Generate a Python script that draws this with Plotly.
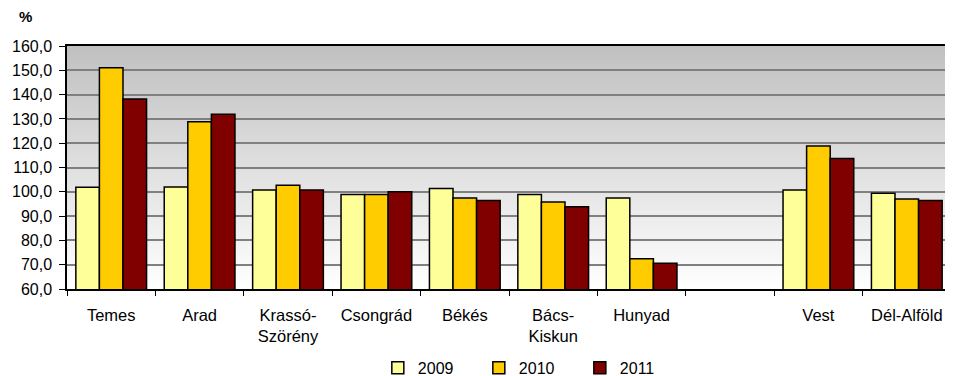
import base64
import plotly.graph_objects as go

# === Data ===
categories = ["Temes", "Arad", "Krassó-<br>Szörény", "Csongrád", "Békés",
              "Bács-<br>Kiskun", "Hunyad", " ", "Vest", "Dél-Alföld"]
years = ["2009", "2010", "2011"]
v2009 = [101.9, 102.0, 100.7, 98.9, 101.4, 98.9, 97.5, None, 100.7, 99.4]
v2010 = [151.1, 128.8, 102.7, 98.9, 97.5, 95.8, 72.5, None, 118.8, 97.0]
v2011 = [138.2, 131.9, 100.7, 100.0, 96.4, 93.8, 70.6, None, 113.7, 96.4]
colors = ["#FFFF99", "#FFCC00", "#800000"]

fig = go.Figure()
for name, vals, col in zip(years, [v2009, v2010, v2011], colors):
    fig.add_trace(go.Bar(
        x=categories, y=vals, name=name,
        marker=dict(color=col, line=dict(color="black", width=1.5)),
    ))

# gray-to-white gradient behind the plot area
svg = ('<svg xmlns="http://www.w3.org/2000/svg" width="100" height="100" preserveAspectRatio="none">'
       '<defs><linearGradient id="g" x1="0" y1="0" x2="0" y2="1">'
       '<stop offset="0" stop-color="#C0C0C0"/><stop offset="1" stop-color="#FFFFFF"/>'
       '</linearGradient></defs><rect width="100" height="100" fill="url(#g)"/></svg>')
bg = "data:image/svg+xml;base64," + base64.b64encode(svg.encode()).decode()

# page body has an 8px margin, so the figure is offset by 8px
fig.update_layout(
    width=945, height=368,
    margin=dict(l=59, r=2, t=38, b=87, autoexpand=False),
    paper_bgcolor="white",
    plot_bgcolor="rgba(0,0,0,0)",
    font=dict(family="Arial, Liberation Sans", size=16, color="black"),
    separators=",.",
    barmode="group", bargap=0.2, bargroupgap=0,
    images=[dict(source=bg, xref="paper", yref="paper", x=0, y=1, sizex=1, sizey=1,
                 sizing="stretch", layer="below")],
    legend=dict(orientation="h", x=0.523, xanchor="center", y=-0.255, yanchor="top",
                font=dict(size=16), entrywidth=56, entrywidthmode="pixels",
                itemwidth=30, bgcolor="rgba(0,0,0,0)"),
    annotations=[dict(text="<b>%</b>", xref="paper", yref="paper", x=-0.0475, y=1.12,
                      xanchor="center", yanchor="middle", showarrow=False, font=dict(size=15))],
)
fig.update_xaxes(
    type="category", tickson="boundaries", ticks="outside", ticklen=5, tickcolor="black",
    ticklabelstandoff=10, tickfont=dict(size=16.5),
    showline=True, linecolor="black", linewidth=1.5, mirror=True,
    showgrid=False, tickangle=0, automargin=False,
)
fig.update_yaxes(
    range=[60, 160], dtick=10, tickformat=".1f", ticks="outside", ticklen=6, tickcolor="black",
    ticklabelstandoff=4,
    showline=True, linecolor="black", linewidth=1.5, mirror=True,
    showgrid=True, gridcolor="#808080", gridwidth=1.5, zeroline=False, automargin=False,
)

fig.write_html("out.html")
